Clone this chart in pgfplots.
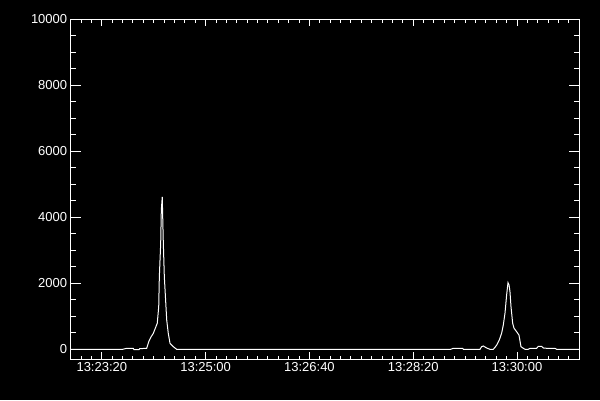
\documentclass[border=0pt]{standalone}
\usepackage{pgfplots}
\pgfplotsset{compat=1.18}
\usepackage{fontspec}
\setmainfont{Liberation Sans}
\pgfplotstableread{
t v
0 0
50 0
53.9 30
60.3 30
61.0 -10
65.8 -10
66.5 20
73.2 30
75.4 250
77.5 380
79.6 485
83.4 790
84.8 1290
85.4 2200
86.7 3210
87.3 4220
88.2 4620
89.2 3260
90.2 2200
92.5 890
94.0 485
95.7 180
98.8 80
102.1 0
200 0
300 0
355 0
366 0
368.6 30
377.6 30
378.3 0
394.3 0
395.9 80
397.5 100
400.7 40
403.9 0
407.1 0
408.8 60
410.4 130
412.9 280
415.2 490
416.8 740
418.4 1090
420.0 1650
421.3 2020
422.3 1950
423.2 1750
424.2 1290
425.8 790
427.1 640
429.7 530
431.9 430
433.8 80
436.1 30
437.7 0
440.8 0
442.5 30
448.9 30
450.5 90
453.7 90
455.3 40
458.6 30
466.6 30
468.2 0
490 0
}\datatable
\begin{document}
\begin{tikzpicture}
\fill[black] (0pt,0pt) rectangle (600pt,400pt);
\useasboundingbox (0pt,0pt) rectangle (600pt,400pt);
\pgfplotsset{
  myaxis/.style={
    at={(70.7pt,40.7pt)}, anchor=south west,
    scale only axis, width=508.6pt, height=340pt,
    xmin=0, xmax=490, ymin=-303, ymax=10000,
    scaled ticks=false,
    axis line style={white, line width=1pt},
    tick style={white, line width=1pt},
    tick align=inside,
    tick pos=both, ticklabel pos=left,
    tick label style={white, font=\fontsize{13}{13}\selectfont},
    /pgf/number format/assume math mode=true,
    /pgf/number format/1000 sep={},
  }
}
\begin{axis}[myaxis,
  xtick={30,130,230,330,430},
  xticklabels={13:23:20,13:25:00,13:26:40,13:28:20,13:30:00},
  minor xtick={0,10,...,490},
  ytick=\empty,
  major tick length=7pt, minor tick length=3.5pt]
\addplot[white, line width=1pt] table[x=t,y=v] {\datatable};
\end{axis}
\begin{axis}[myaxis,
  xtick=\empty,
  ytick={0,2000,4000,6000,8000,10000},
  yticklabels={0,2000,4000,6000,8000,10000},
  minor ytick={0,500,...,10000},
  major tick length=10pt, minor tick length=5pt]
\end{axis}
\end{tikzpicture}
\end{document}
